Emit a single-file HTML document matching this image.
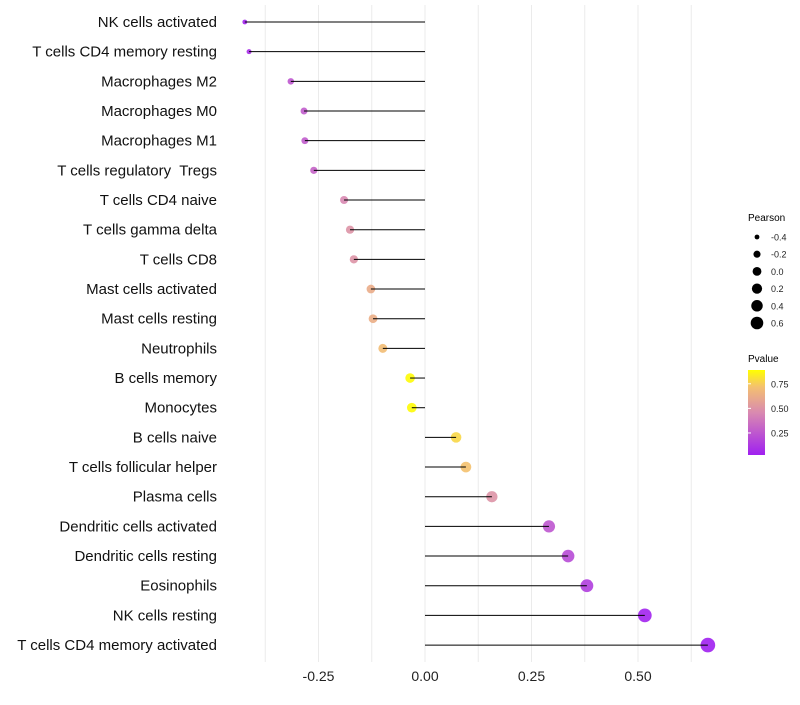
<!DOCTYPE html>
<html><head><meta charset="utf-8"><style>
body{margin:0;background:#fff;}
svg text{font-family:"Liberation Sans",sans-serif;white-space:pre;}
</style></head><body>
<svg id="c" width="800" height="700" xmlns="http://www.w3.org/2000/svg">
<defs><linearGradient id="pg" x1="0" y1="1" x2="0" y2="0">
<stop offset="0" stop-color="#A020F0"/><stop offset="0.5" stop-color="#D98AB0"/><stop offset="0.8" stop-color="#F4C070"/><stop offset="1" stop-color="#FFFF00"/></linearGradient></defs>
<g id="grid"></g><g id="marks"></g><g id="ylab"></g><g id="xlab"></g>
<g>
<text x="748" y="221" font-size="10">Pearson</text>
<g id="sizeleg"></g>
<text x="748" y="362" font-size="10">Pvalue</text>
<rect x="748" y="370" width="17" height="85" fill="url(#pg)"/>
<g id="colleg"></g>
</g>
</svg>
<script>
const categories=["NK cells activated","T cells CD4 memory resting","Macrophages M2","Macrophages M0","Macrophages M1","T cells regulatory  Tregs","T cells CD4 naive","T cells gamma delta","T cells CD8","Mast cells activated","Mast cells resting","Neutrophils","B cells memory","Monocytes","B cells naive","T cells follicular helper","Plasma cells","Dendritic cells activated","Dendritic cells resting","Eosinophils","NK cells resting","T cells CD4 memory activated"];
const pearson=[-0.423,-0.413,-0.315,-0.284,-0.282,-0.261,-0.19,-0.176,-0.167,-0.127,-0.122,-0.099,-0.035,-0.031,0.073,0.096,0.157,0.291,0.336,0.38,0.516,0.664];
const pvalues=[0.04,0.08,0.25,0.27,0.27,0.3,0.45,0.5,0.5,0.62,0.63,0.7,0.88,0.88,0.78,0.72,0.5,0.25,0.2,0.15,0.04,0.02];
const xTicks=[-0.25,0,0.25,0.5];
const xTickLabels=["-0.25","0.00","0.25","0.50"];
const sizeLegendVals=[-0.4,-0.2,0,0.2,0.4,0.6];
const colorLegendVals=[0.25,0.5,0.75];
const NS="http://www.w3.org/2000/svg";
const xs=v=>425+v*426;
const ys=i=>22+i*29.67;
const rs=v=>Math.sqrt(Math.max(2,16+34*(v+0.1)));
const rc=v=>Math.sqrt(Math.max(2,6+44*(v+0.42)));
const stops=[[0,[160,32,240]],[0.5,[217,138,176]],[0.8,[244,192,112]],[1,[255,255,0]]];
function col(p){let t=(p-0.026)/(0.89-0.026);t=Math.max(0,Math.min(1,t));for(let k=1;k<stops.length;k++){if(t<=stops[k][0]){const a=stops[k-1],b=stops[k];const f=(t-a[0])/(b[0]-a[0]);return "rgb("+a[1].map((c,j)=>Math.round(c+(b[1][j]-c)*f)).join(",")+")";}}return "rgb(255,255,0)";}
function mk(tag,attrs,parent){const e=document.createElementNS(NS,tag);for(const k in attrs)e.setAttribute(k,attrs[k]);document.getElementById(parent).appendChild(e);return e;}
for(let g=-0.375;g<=0.63;g+=0.125){const l=mk("line",{x1:xs(g),x2:xs(g),y1:5,y2:662,stroke:"#ebebeb","stroke-width":1},"grid");

}
categories.forEach((c,i)=>{
const y=ys(i);
const cc=mk("circle",{cx:xs(pearson[i]),cy:y,r:rc(pearson[i]),fill:col(pvalues[i]),"fill-opacity":0.9},"marks");


const ln=mk("line",{x1:xs(0),x2:xs(pearson[i]),y1:y,y2:y,stroke:"#000","stroke-width":1},"marks");


const t=mk("text",{x:217,y:y+5,"text-anchor":"end","font-size":15,fill:"#111"},"ylab");
t.textContent=c;


});
xTicks.forEach((v,i)=>{const t=mk("text",{x:xs(v),y:681,"text-anchor":"middle","font-size":14,fill:"#222"},"xlab");t.textContent=xTickLabels[i];

});
sizeLegendVals.forEach((v,i)=>{const y=237+i*17.2;
const c=mk("circle",{cx:757,cy:y,r:rs(v),fill:"#000"},"sizeleg");


const t=mk("text",{x:771,y:y+3.5,"font-size":9,fill:"#222"},"sizeleg");t.textContent=v.toFixed(1);

});
colorLegendVals.forEach(v=>{const y=455-(v-0.026)/(0.89-0.026)*85;
const l=mk("line",{x1:748,x2:751,y1:y,y2:y,stroke:"#fff"},"colleg");


const t=mk("text",{x:771,y:y+3.5,"font-size":9,fill:"#222"},"colleg");t.textContent=v.toFixed(2);

});
</script>
</body></html>
